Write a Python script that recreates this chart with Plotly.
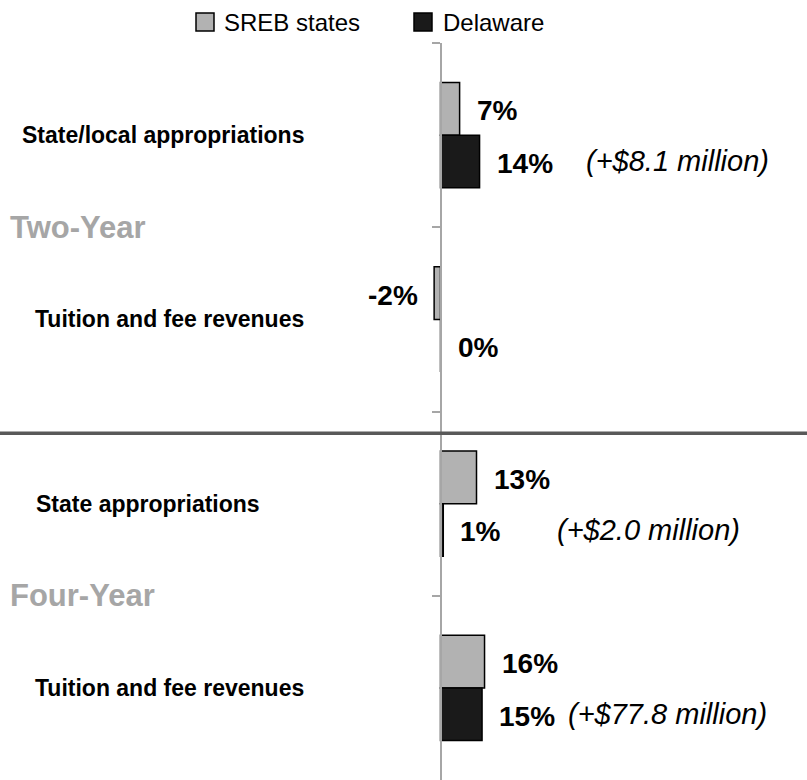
import plotly.graph_objects as go

# ---- data ----
categories = ["State/local appropriations", "Tuition and fee revenues",
              "State appropriations", "Tuition and fee revenues"]
groups = ["Two-Year", "Four-Year"]
series_names = ["SREB states", "Delaware"]
sreb_values = [6.9, -2.3, 13.0, 15.9]
delaware_values = [14.1, 0.0, 1.0, 15.0]
sreb_labels = ["7%", "-2%", "13%", "16%"]
delaware_labels = ["14%", "0%", "1%", "15%"]
delaware_notes = ["(+$8.1 million)", "", "(+$2.0 million)", "(+$77.8 million)"]

W, H = 807, 780
TOP = 43
PX_PER_UNIT = 2.77
AXIS_PX = 440.5
FONT = "Liberation Sans, Arial, sans-serif"
COLORS = ["#b2b2b2", "#1a1a1a"]

ypos = list(range(len(categories)))
fig = go.Figure()
for name, vals, col in zip(series_names, [sreb_values, delaware_values], COLORS):
    fig.add_trace(go.Bar(name=name, y=ypos, x=vals, orientation="h", showlegend=False,
                         hoverinfo="skip",
                         marker=dict(color=col, line=dict(color="#000000", width=1.5))))

bargap = 0.43
half = (1 - bargap) / 4.0
plot_h = H - TOP
ann = []
shapes = []

# category labels
cat_centers_px = [162.5, 169, 148, 169]
for i, (c, cx) in enumerate(zip(categories, cat_centers_px)):
    ann.append(dict(x=cx / W, xref="paper", y=i, yref="y", text="<b>" + c + "</b>",
                    showarrow=False, xanchor="center", yanchor="middle",
                    font=dict(family=FONT, size=23, color="#000000")))
# group labels
for g, yy in zip(groups, [0.5, 2.5]):
    ann.append(dict(x=8 / W, xref="paper", y=yy, yref="y", text="<b>" + g + "</b>",
                    showarrow=False, xanchor="left", yanchor="middle",
                    font=dict(family=FONT, size=31, color="#a6a6a6")))

def vlabel(val, txt, yy):
    if val < 0:
        xa, sh = "right", -14
    else:
        xa, sh = "left", 15
    return dict(x=val, xref="x", y=yy, yref="y", text="<b>" + txt + "</b>",
                showarrow=False, xanchor=xa, xshift=sh, yanchor="middle", yshift=-2,
                font=dict(family=FONT, size=28, color="#000000"))

for i in range(len(categories)):
    ann.append(vlabel(sreb_values[i], sreb_labels[i], i - half))
    ann.append(vlabel(delaware_values[i], delaware_labels[i], i + half))

note_left_px = [584, None, 555, 566]
for i, n in enumerate(delaware_notes):
    if n:
        ann.append(dict(x=note_left_px[i] / W, xref="paper", y=i + half, yref="y",
                        text="<i>" + n.replace("$", "&#36;") + "</i>", showarrow=False,
                        xanchor="left", yanchor="middle", yshift=0,
                        font=dict(family=FONT, size=29, color="#000000")))

# manual legend (squares + text) above plot
def py(px):
    return 1 + (TOP - px) / plot_h

leg_sq_left = [196, 414]
leg_txt_left = [222, 441]
for name, col, sx, tx in zip(series_names, COLORS, leg_sq_left, leg_txt_left):
    shapes.append(dict(type="rect", xref="paper", yref="paper",
                       x0=sx / W, x1=(sx + 18) / W, y0=py(31), y1=py(13),
                       fillcolor=col, line=dict(color="#000000", width=1.5)))
    ann.append(dict(x=tx / W, xref="paper", y=py(22.5), yref="paper", text=name,
                    showarrow=False, xanchor="left", yanchor="middle",
                    font=dict(family=FONT, size=24, color="#000000")))

sep_y = (433.3 - TOP) / (plot_h / 4.0) - 0.5
shapes.append(dict(type="line", xref="paper", x0=0, x1=1, yref="y", y0=sep_y, y1=sep_y,
                   line=dict(color="#595959", width=3.5), layer="above"))

fig.update_layout(
    width=W, height=H,
    margin=dict(l=0, r=0, t=TOP, b=0, pad=0),
    paper_bgcolor="white", plot_bgcolor="white",
    barmode="group", bargap=bargap, bargroupgap=0,
    showlegend=False,
    xaxis=dict(range=[-AXIS_PX / PX_PER_UNIT, (W - AXIS_PX) / PX_PER_UNIT],
               showgrid=False, zeroline=False, showticklabels=False, ticks="",
               showline=False, fixedrange=True),
    yaxis=dict(range=[3.5, -0.5], anchor="free", position=AXIS_PX / W,
               showline=True, linecolor="#a6a6a6", linewidth=2,
               ticks="outside", ticklen=8, tickcolor="#a6a6a6", tickwidth=2,
               tickvals=[-0.5, 0.5, 1.5, 2.5], showticklabels=False,
               showgrid=False, zeroline=False, fixedrange=True),
    annotations=ann,
    shapes=shapes,
    font=dict(family=FONT),
)

fig.write_html("out.html", config={"displayModeBar": False},
               post_script="document.body.style.margin='0';")
